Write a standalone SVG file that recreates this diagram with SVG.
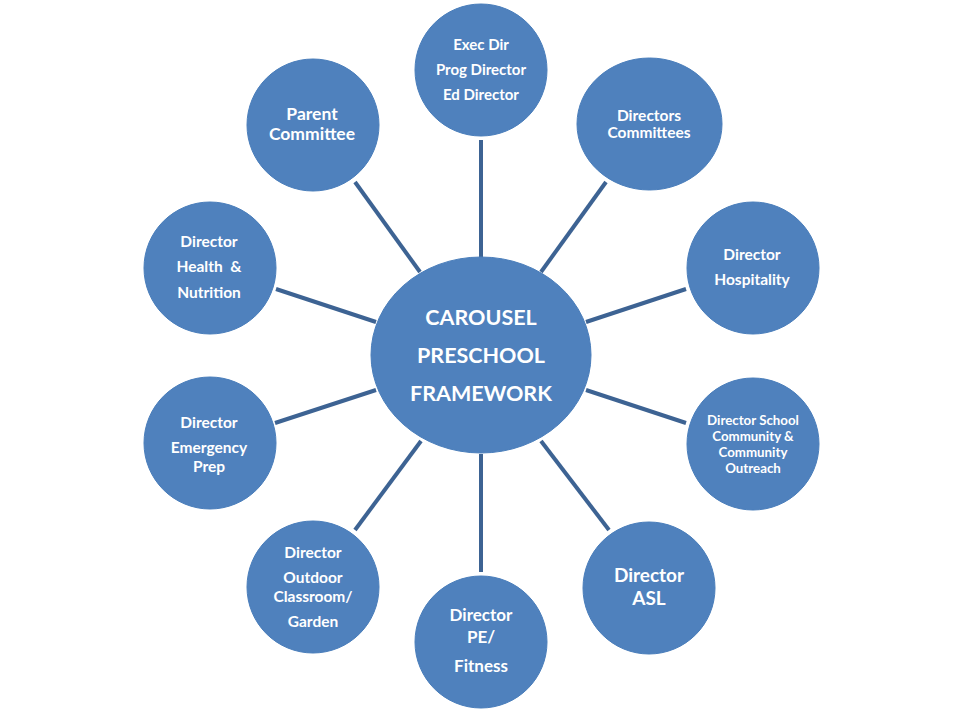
<svg xmlns="http://www.w3.org/2000/svg" width="960" height="712" viewBox="0 0 960 712">
<style>
.node{fill:#4F81BD;stroke:#4A7EBB;stroke-width:1}
.t{font-family:Lato,"Liberation Sans",sans-serif;font-weight:bold;fill:#FFFFFF;text-anchor:middle}
.conn line{stroke:#3D6393;stroke-width:4;stroke-linecap:butt}
</style>
<rect width="960" height="712" fill="#FFFFFF"/>
<g class="conn" id="connectors">
<line x1="481" y1="140" x2="481" y2="258"/>
<line x1="606" y1="182" x2="541" y2="272"/>
<line x1="686" y1="289" x2="586" y2="322"/>
<line x1="686" y1="423" x2="586" y2="390"/>
<line x1="609" y1="530" x2="541" y2="441"/>
<line x1="481" y1="572" x2="481" y2="454"/>
<line x1="355" y1="530" x2="421" y2="441"/>
<line x1="275" y1="423" x2="376" y2="390"/>
<line x1="276" y1="289" x2="376" y2="322"/>
<line x1="355" y1="182" x2="420" y2="272"/>
</g>
<g id="center">
<ellipse class="node" cx="481" cy="355" rx="110" ry="98"/>
<text class="t" font-size="21.5" x="481" y="325">CAROUSEL</text>
<text class="t" font-size="21.5" x="481" y="363">PRESCHOOL</text>
<text class="t" font-size="21.5" x="481" y="401">FRAMEWORK</text>
</g>
<g id="exec">
<circle class="node" cx="481" cy="70" r="66"/>
<text class="t" font-size="15" x="481" y="50">Exec Dir</text>
<text class="t" font-size="15" x="481" y="75">Prog Director</text>
<text class="t" font-size="15" x="481" y="100">Ed Director</text>
</g>
<g id="committees">
<ellipse class="node" cx="649.5" cy="124" rx="72.5" ry="66"/>
<text class="t" font-size="15.5" x="649" y="121">Directors</text>
<text class="t" font-size="15.5" x="649" y="138">Committees</text>
</g>
<g id="hospitality">
<circle class="node" cx="753" cy="268" r="66"/>
<text class="t" font-size="15.5" x="752" y="260">Director</text>
<text class="t" font-size="15.5" x="752" y="285">Hospitality</text>
</g>
<g id="outreach">
<circle class="node" cx="753" cy="444" r="66"/>
<text class="t" font-size="13.3" x="753" y="425">Director School</text>
<text class="t" font-size="13.3" x="753" y="441">Community &amp;</text>
<text class="t" font-size="13.3" x="753" y="457">Community</text>
<text class="t" font-size="13.3" x="753" y="473">Outreach</text>
</g>
<g id="asl">
<circle class="node" cx="649" cy="588" r="66"/>
<text class="t" font-size="19" x="649" y="582">Director</text>
<text class="t" font-size="19" x="649" y="605">ASL</text>
</g>
<g id="pe">
<circle class="node" cx="481" cy="642" r="66"/>
<text class="t" font-size="17" x="481" y="621">Director</text>
<text class="t" font-size="17" x="481" y="643">PE/</text>
<text class="t" font-size="17" x="481" y="672">Fitness</text>
</g>
<g id="outdoor">
<circle class="node" cx="313" cy="587" r="66"/>
<text class="t" font-size="15.5" x="313" y="558">Director</text>
<text class="t" font-size="15.5" x="313" y="583">Outdoor</text>
<text class="t" font-size="15.5" x="313" y="602">Classroom/</text>
<text class="t" font-size="15.5" x="313" y="627">Garden</text>
</g>
<g id="emergency">
<circle class="node" cx="210" cy="443" r="66"/>
<text class="t" font-size="15.5" x="209" y="428">Director</text>
<text class="t" font-size="15.5" x="209" y="453">Emergency</text>
<text class="t" font-size="15.5" x="209" y="472">Prep</text>
</g>
<g id="health">
<circle class="node" cx="210" cy="268" r="66"/>
<text class="t" font-size="15.5" x="209" y="247">Director</text>
<text class="t" font-size="15.5" x="209" y="272" xml:space="preserve">Health  &amp;</text>
<text class="t" font-size="15.5" x="209" y="298">Nutrition</text>
</g>
<g id="parent">
<circle class="node" cx="313" cy="125" r="66"/>
<text class="t" font-size="17.5" x="312" y="120">Parent</text>
<text class="t" font-size="17.5" x="312" y="140">Committee</text>
</g>
</svg>
